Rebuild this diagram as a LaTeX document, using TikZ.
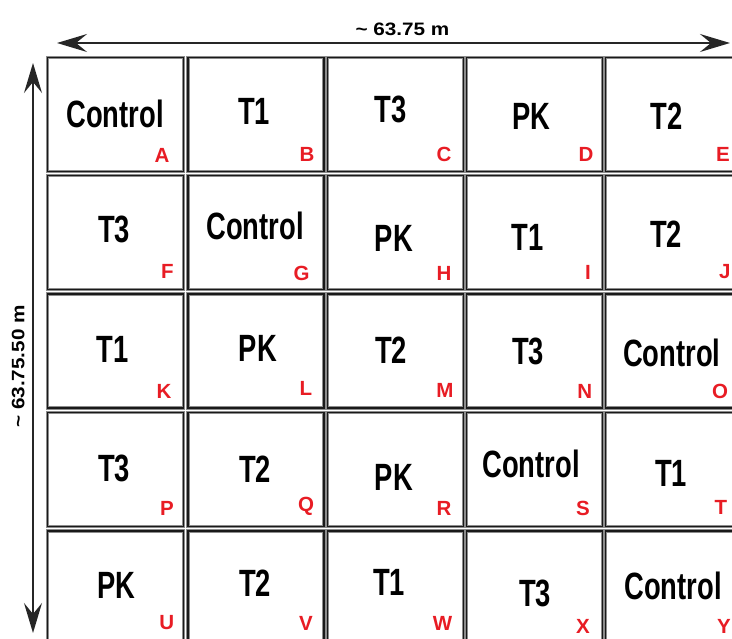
\documentclass[tikz,border=0pt]{standalone}
\usepackage{fontspec}
\setmainfont{Liberation Sans}
\newfontfamily\condfont[FakeStretch=0.72]{Liberation Sans}
\usetikzlibrary{arrows.meta}
\definecolor{plotred}{RGB}{232,28,36}
\tikzset{
  cellbox/.style={draw=black!90, line width=1.7pt, minimum width=136pt, minimum height=114pt, inner sep=0pt,
    preaction={draw=black!45, line width=3.4pt}},
  mainlbl/.style={font=\condfont\bfseries\fontsize{38}{40}\selectfont, text=black, inner sep=0pt},
  letterlbl/.style={font=\bfseries\fontsize{20.5}{22}\selectfont, text=plotred, inner sep=0pt},
  dimline/.style={draw=black!85, line width=2pt, {Stealth[length=30pt,width=18pt,inset=11pt]}-{Stealth[length=30pt,width=18pt,inset=11pt]}},
  dimlbl/.style={font=\bfseries\fontsize{18}{20}\selectfont, inner sep=0pt}
}
\begin{document}
\begin{tikzpicture}[x=1pt,y=-1pt]
\clip (0,0) rectangle (732,639);
\fill[white] (0,0) rectangle (732,639);
% plots
\foreach \r/\ty in {1/57.5,2/175.5,3/294,4/412.5,5/531}{
  \foreach \c/\lx in {1/47.5,2/188,3/327.5,4/466.5,5/605.5}{
    \node[cellbox] (cell\r\c) at (\lx+68,\ty+57) {};
  }
}
% treatments and plot letters
\foreach \n/\t/\cx/\cy/\lx/\ly in {
  A/Control/115/114/162/155, B/T1/254/111/307/154, C/T3/390.5/109/444/154, D/PK/531.7/116/586/154, E/T2/666.7/116/723/154,
  F/T3/114/229.5/167.5/271, G/Control/255/226/301.7/273, H/PK/394/238/444/273, I/T1/527.5/237.5/588/272.5, J/T2/666/234/724.7/272,
  K/T1/112.5/349/164/391, L/PK/258/348/306/388, M/T2/391/350/445/390.5, N/T3/528/351/584.7/391.7, O/Control/671.7/352.5/720/391,
  P/T3/114/468/167/508, Q/T2/255/469/306/506, R/PK/394/477/444/508, S/Control/531/464/583/508, T/T1/671/473/721/507,
  U/PK/116.7/585.5/166.7/623, V/T2/255/583/306/623, W/T1/389/582.5/442.5/623, X/T3/535/593/583/626, Y/Control/673/585.5/724/626}{
  \node[mainlbl] (trt\n) at (\cx,\cy) {\t};
  \node[letterlbl] (plot\n) at (\lx,\ly) {\n};
}
% dimensions
\coordinate (hl) at (57,43);
\coordinate (hr) at (730,43);
\coordinate (vt) at (33,63);
\coordinate (vb) at (33,633);
\draw[dimline] (hl) -- (hr);
\draw[dimline] (vt) -- (vb);
\node[dimlbl] (wlbl) at (402.5,29) {\scalebox{1.15}[1]{\textasciitilde{} 63.75 m}};
\node[dimlbl, rotate=90] (hlbl) at (18.3,366.5) {\scalebox{1.15}[1]{\textasciitilde{} 63.75.50 m}};
\end{tikzpicture}
\end{document}
